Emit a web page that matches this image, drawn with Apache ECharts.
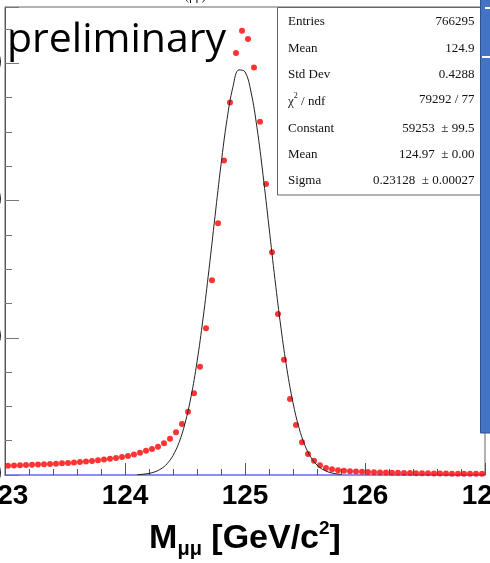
<!DOCTYPE html>
<html><head><meta charset="utf-8">
<script src="https://cdn.jsdelivr.net/npm/echarts@6/dist/echarts.min.js"></script>
<style>html,body{margin:0;padding:0;background:#fff}#c{width:490px;height:563px}</style>
</head><body><div id="c"></div>
<script>
// Histogram bin centres (GeV/c^2)
const binCenters = [
  123.025,123.075,123.125,123.175,123.225,123.275,123.325,123.375,123.425,123.475,
  123.525,123.575,123.625,123.675,123.725,123.775,123.825,123.875,123.925,123.975,
  124.025,124.075,124.125,124.175,124.225,124.275,124.325,124.375,124.425,124.475,
  124.525,124.575,124.625,124.675,124.725,124.775,124.825,124.875,124.925,124.975,
  125.025,125.075,125.125,125.175,125.225,125.275,125.325,125.375,125.425,125.475,
  125.525,125.575,125.625,125.675,125.725,125.775,125.825,125.875,125.925,125.975,
  126.025,126.075,126.125,126.175,126.225,126.275,126.325,126.375,126.425,126.475,
  126.525,126.575,126.625,126.675,126.725,126.775,126.825,126.875,126.925,126.975
];
// Entries per bin
const counts = [
  1350,1400,1430,1460,1500,1530,1570,1600,1650,1700,
  1750,1820,1890,1970,2040,2140,2260,2360,2480,2620,
  2770,2990,3250,3540,3790,4130,4620,5290,6230,7440,
  9230,11910,15790,21390,28390,36700,45830,54280,61480,64740,
  63530,59390,51470,42390,32470,23470,16800,11080,7290,4770,
  3060,2090,1410,1020,830,700,620,550,500,460,
  430,400,370,350,330,310,290,275,260,250,
  240,230,220,210,200,195,190,185,180,175
];
// Fit curve samples
const fitX = [124.10,124.15,124.20,124.25,124.30,124.35,124.40,124.45,124.50,124.55,124.60,124.65,124.70,124.75,124.80,124.85,124.90,124.95,125.00,125.05,125.10,125.15,125.20,125.25,125.30,125.35,125.40,125.45,125.50,125.55,125.60,125.65,125.70,125.75,125.80];
const fitY = [50,110,232,466,892,1631,2842,4728,7513,11394,16472,22747,29976,37691,45228,51794,56599,59033,58755,55815,50597,43771,36138,28471,21408,15364,10523,6879,4289,2553,1450,786,407,201,95];
const xTickLabels = [123,124,125,126,127];
const yTickLabels = [0,20000,40000,60000];
const statsLabels = ['Entries','Mean','Std Dev','{a|χ}{s|2}{a| / ndf}','Constant','Mean','Sigma'];
const statsValues = ['766295','124.9','0.4288','79292 / 77','59253  ± 99.5','124.97  ± 0.00','0.23128  ± 0.00027'];

const chart = echarts.init(document.getElementById('c'), null, {renderer:'canvas'});
const pts = binCenters.map((x,i)=>[x,counts[i]]);
const fit = fitX.map((x,i)=>[x,fitY[i]]);
const rowY = [21.7,49,74.5,100,128.3,155,181];
const serif = '"Liberation Serif","DejaVu Serif",serif';
const sans = '"Liberation Sans",Arial,sans-serif';

const graphics = [];
// stats box
graphics.push({type:'rect', shape:{x:277.5,y:7.5,width:215,height:187.5}, style:{fill:'#fff',stroke:'#666',lineWidth:1}, z:100});
statsLabels.forEach((t,i)=>{
  graphics.push({type:'text', x:288, y:rowY[i], z:101, style:{text:t, fill:'#111', fontSize:13, fontFamily:serif,
    align:'left', verticalAlign:'middle', textAlign:'left', textVerticalAlign:'middle',
    rich:{a:{fontSize:13,fontFamily:serif,fill:'#111',lineHeight:14,verticalAlign:'bottom'}, s:{fontSize:8,fontFamily:serif,fill:'#111',lineHeight:16,verticalAlign:'top'}}}});
  graphics.push({type:'text', x:474.5, y:rowY[i], z:101, style:{text:statsValues[i], fill:'#111', fontSize:13, fontFamily:serif,
    align:'right', verticalAlign:'middle', textAlign:'right', textVerticalAlign:'middle'}});
});
// preliminary
graphics.push({type:'text', x:7, y:40, z:110, style:{text:'preliminary', fill:'#000', fontSize:41, fontFamily:'"Open Sans","Noto Sans",sans-serif',
  align:'left', verticalAlign:'middle', textAlign:'left', textVerticalAlign:'middle'}});
// cut title fragment at top
graphics.push({type:'text', x:185, y:3, z:110, style:{text:'(μμ)', fill:'#000', fontSize:12, fontFamily:serif,
  align:'left', verticalAlign:'bottom', textAlign:'left', textVerticalAlign:'bottom'}});
// x axis title
graphics.push({type:'text', x:245, y:519, z:110, style:{text:'{m|M}{s|μμ}{m| [GeV/c}{p|2}{m|]}', align:'center', verticalAlign:'top', textAlign:'center', textVerticalAlign:'top',
  rich:{
    m:{fontSize:34,fontWeight:'bold',fontFamily:sans,fill:'#000',lineHeight:40,verticalAlign:'middle'},
    s:{fontSize:20,fontWeight:'bold',fontFamily:sans,fill:'#000',lineHeight:22,verticalAlign:'bottom'},
    p:{fontSize:19,fontWeight:'bold',fontFamily:sans,fill:'#000',lineHeight:29,verticalAlign:'top'}
  }}});
// slide decoration bar at right
graphics.push({type:'rect', shape:{x:480.5,y:-2,width:14,height:435}, style:{fill:'#4472c4',stroke:'#2f528f',lineWidth:1}, z:120});
graphics.push({type:'rect', shape:{x:482,y:56,width:10,height:2}, style:{fill:'#fff'}, z:121});
graphics.push({type:'rect', shape:{x:485,y:7,width:6,height:2}, style:{fill:'#fff'}, z:121});

chart.setOption({
  animation:false,
  backgroundColor:'#fff',
  grid:{left:5,right:5,top:7,bottom:88,containLabel:false,outerBoundsMode:'none',show:true,borderColor:'#666',borderWidth:1,backgroundColor:'transparent'},
  xAxis:{type:'value',min:123,max:127,interval:1,
    axisLine:{show:true,lineStyle:{color:'#8c8cf5',width:2}},
    axisTick:{show:true,inside:true,length:12,lineStyle:{color:'#555'}},
    minorTick:{show:true,splitNumber:5,length:6,lineStyle:{color:'#555'}},
    splitLine:{show:false},
    axisLabel:{show:true,showMinLabel:true,showMaxLabel:true,margin:7,fontSize:28,fontWeight:'bold',fontFamily:sans,color:'#000',
      formatter:v=>String(xTickLabels.find(t=>Math.abs(t-v)<1e-6) ?? '')}
  },
  yAxis:{type:'value',min:0,max:68200,interval:20000,
    axisLine:{show:true,lineStyle:{color:'#555',width:1}},
    axisTick:{show:true,inside:true,length:14,lineStyle:{color:'#777'}},
    minorTick:{show:true,splitNumber:4,length:7,lineStyle:{color:'#777'}},
    splitLine:{show:false},
    axisLabel:{show:true,margin:3,fontSize:27,fontWeight:'bold',fontFamily:sans,color:'#000',
      formatter:v=>String(yTickLabels.find(t=>Math.abs(t-v)<1e-6) ?? '')}
  },
  series:[
    {type:'scatter',data:pts,symbol:'circle',symbolSize:6,itemStyle:{color:'#ff0000'},z:5,silent:true},
    {type:'line',data:fit,showSymbol:false,smooth:0.4,lineStyle:{color:'#222',width:1},z:6,silent:true}
  ],
  graphic:{elements:graphics}
});
</script></body></html>
